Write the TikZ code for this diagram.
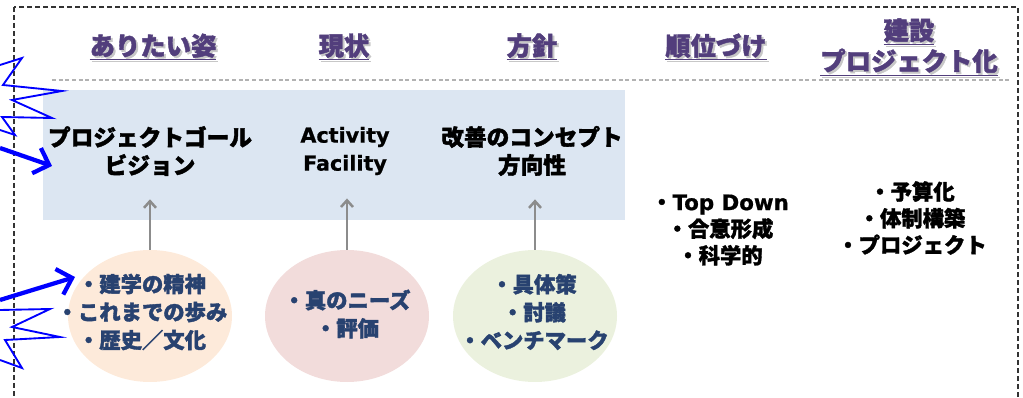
\documentclass[tikz,border=0pt]{standalone}
\usepackage{fontspec}
\setmainfont{Noto Sans CJK JP}[BoldFeatures={FakeBold=1.6}]
\newfontfamily\latinbf{DejaVu Sans}[BoldFeatures={FakeBold=0.8}]
\usetikzlibrary{arrows.meta,shapes.geometric}

\definecolor{headcol}{RGB}{82,62,124}
\definecolor{blobtxt}{RGB}{40,66,112}
\definecolor{panelbg}{RGB}{220,230,242}
\definecolor{peach}{RGB}{253,234,218}
\definecolor{rose}{RGB}{242,220,219}
\definecolor{sage}{RGB}{235,241,222}
\definecolor{arrowgray}{RGB}{140,140,140}

\begin{document}
\begin{tikzpicture}[x=0.75pt, y=-0.75pt,
  head/.style={font=\fontsize{19}{23}\selectfont\bfseries, text=headcol, align=center},
  headshade/.style={font=\fontsize{19}{23}\selectfont\bfseries, text=black!22, align=center},
  goal/.style={font=\fontsize{17}{21}\selectfont\bfseries, align=center},
  blob/.style={ellipse, minimum width=123pt, minimum height=99pt, inner sep=0pt},
  blobtext/.style={font=\fontsize{16}{21}\selectfont\bfseries, text=blobtxt, align=center},
  side/.style={font=\fontsize{16}{20}\selectfont\bfseries, align=center},
  uparrow/.style={-{Straight Barb[length=5pt,width=9pt]}, draw=arrowgray, line width=1.9pt},
  scribble/.style={draw=blue, line width=1.4pt},
  bigarrow/.style={-{Straight Barb[length=10pt,width=20pt]}, draw=blue, line width=3.2pt}]
  \useasboundingbox (0,0) rectangle (1023,398);
  \clip (0,0) rectangle (1023,398);

  % outer frame
  \draw[black!80, line width=1.1pt, dash pattern=on 4pt off 2pt] (14,7) rectangle (1018,420);

  % column headers
  \foreach \n/\x/\t in {h1/153/{\underline{ありたい姿}},
                        h2/344/{\underline{現状}},
                        h3/532/{\underline{方針}},
                        h4/716/{\underline{順位づけ}},
                        h5/909/{\underline{建設}\\\underline{プロジェクト化}}}{
    \node[headshade] at (\x+2,47+2) {\t};
    \node[head] (\n) at (\x,47) {\t};
  }
  \draw[black!30, line width=0.8pt, dash pattern=on 3pt off 2pt] (52,80) -- (1010,80);

  % light blue panel
  \fill[panelbg] (43,90) rectangle (625,220);
  \node[goal] (g1) at (150,151) {プロジェクトゴール\\ビジョン};
  \node[goal, font=\latinbf\fontsize{15.5}{21}\selectfont\bfseries] (g2) at (345,151) {Activity\\Facility};
  \node[goal] (g3) at (532,151) {改善のコンセプト\\方向性};

  % ellipses
  \node[blob, fill=peach] (e1) at (150,316) {};
  \node[blob, fill=rose]  (e2) at (347,316) {};
  \node[blob, fill=sage]  (e3) at (535,316) {};
  \node[blobtext] (t1) at (142,312) {・建学の精神\\・これまでの歩み\\・歴史／文化};
  \node[blobtext] (t2) at (347,314) {・真のニーズ\\・評価};
  \node[blobtext] (t3) at (534,312) {・具体策\\・討議\\・ベンチマーク};

  \draw[uparrow, shorten >=14pt] (e1.north) -- (e1.north |- g1.south);
  \draw[uparrow, shorten >=14pt] (e2.north) -- (e2.north |- g2.south);
  \draw[uparrow, shorten >=14pt] (e3.north) -- (e3.north |- g3.south);

  % right columns
  \node[side] (r1) at (720,230) {・{\latinbf\bfseries Top Down}\\・合意形成\\・科学的};
  \node[side] (r2) at (912,218) {・予算化\\・体制構築\\・プロジェクト};

  % blue scribbles on the left
  \draw[scribble] (0,65) -- (22,58) -- (3,85) -- (62,91) -- (12,100) -- (52,118)
    -- (2,117) -- (15,135) -- (0,130);
  \coordinate (s1) at (0,148);
  \coordinate (s2) at (52,166);
  \draw[bigarrow] (s1) -- (s2);
  \draw[scribble] (0,310) -- (50,309) -- (12,327) -- (60,337) -- (5,340) -- (22,368) -- (0,360);
  \coordinate (s3) at (0,300);
  \coordinate (s4) at (75,277);
  \draw[bigarrow] (s3) -- (s4);
\end{tikzpicture}
\end{document}
